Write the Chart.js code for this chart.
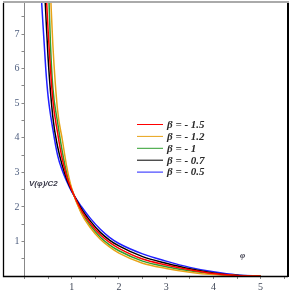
<!DOCTYPE html>
<html>
<head>
<meta charset="utf-8">
<script src="https://cdn.jsdelivr.net/npm/chart.js@4/dist/chart.umd.min.js"></script>
<style>
  html, body { margin: 0; padding: 0; background: #fff; }
</style>
</head>
<body>
<canvas id="chart" width="291" height="298"></canvas>
<script>
// tick labels
const xTicks = [1, 2, 3, 4, 5];
const yTicks = [1, 2, 3, 4, 5, 6, 7];

// series labels and colours (legend order)
const betaLabels = ['β = - 1.5', 'β = - 1.2', 'β = - 1', 'β = - 0.7', 'β = - 0.5'];
const betaColors = ['#ff0000', '#e8a317', '#2e9e2e', '#000000', '#2020ff'];

// values: phi, V(phi)/C2
const phiRight  = [1.2, 1.4, 1.6, 1.8, 2, 2.5, 3, 3.5, 4, 4.5, 5];

const phiRed    = [0.47, 0.5, 0.6, 0.7, 0.8, 0.9, 1.0].concat(phiRight);
const vRed      = [7.9, 7.1, 5.1, 4.15, 3.38, 2.85, 2.49, 1.91, 1.51, 1.20, 0.97, 0.80, 0.49, 0.32, 0.18, 0.07, 0.015, 0];
const phiOrange = [0.56, 0.6, 0.7, 0.8, 0.9, 1.0].concat(phiRight);
const vOrange   = [7.9, 6.7, 4.8, 3.95, 3.12, 2.53, 1.82, 1.39, 1.07, 0.84, 0.66, 0.37, 0.22, 0.11, 0.04, 0.01, 0];
const phiGreen  = [0.52, 0.55, 0.6, 0.7, 0.8, 0.9, 1.0].concat(phiRight);
const vGreen    = [7.9, 6.7, 5.45, 4.45, 3.6, 2.95, 2.51, 1.86, 1.45, 1.13, 0.90, 0.73, 0.43, 0.27, 0.15, 0.06, 0.01, 0];
const phiBlack  = [0.44, 0.5, 0.6, 0.7, 0.8, 0.9, 1.0].concat(phiRight);
const vBlack    = [7.9, 6.3, 4.6, 3.75, 3.2, 2.78, 2.47, 1.96, 1.58, 1.27, 1.04, 0.87, 0.56, 0.37, 0.21, 0.09, 0.02, 0];
const phiBlue   = [0.364, 0.45, 0.5, 0.6, 0.7, 0.8, 0.9, 1.0].concat(phiRight);
const vBlue     = [7.9, 6.0, 5.2, 4.25, 3.5, 3.05, 2.72, 2.44, 2.02, 1.66, 1.36, 1.12, 0.94, 0.64, 0.43, 0.25, 0.12, 0.03, 0];

const seriesPhi = [phiRed, phiOrange, phiGreen, phiBlack, phiBlue];
const seriesV = [vRed, vOrange, vGreen, vBlack, vBlue];

const datasets = betaLabels.map((label, i) => ({
  label: label,
  data: seriesPhi[i].map((x, j) => ({ x: x, y: seriesV[i][j] })),
  borderColor: betaColors[i],
  borderWidth: 1.5,
  pointRadius: 0,
  fill: false,
  cubicInterpolationMode: 'monotone'
}));

// frame round the plot (black left/right/bottom, grey top)
const framePlugin = {
  id: 'frame',
  afterDraw(chart) {
    const ctx = chart.ctx;
    const a = chart.chartArea;
    ctx.save();
    ctx.strokeStyle = '#000';
    ctx.lineWidth = 1.3;
    ctx.beginPath();
    ctx.moveTo(3.5, a.top);
    ctx.lineTo(3.5, a.bottom + 0.5);
    ctx.lineTo(a.right, a.bottom + 0.5);
    ctx.stroke();
    ctx.lineWidth = 2;
    ctx.beginPath();
    ctx.moveTo(a.right, a.top);
    ctx.lineTo(a.right, a.bottom + 1);
    ctx.stroke();
    ctx.strokeStyle = '#aaaaaa';
    ctx.beginPath();
    ctx.moveTo(3, 2);
    ctx.lineTo(a.right + 1, 2);
    ctx.stroke();
    ctx.restore();
  }
};

// legend inside the plot and the axis titles
const legendPlugin = {
  id: 'insideLegend',
  afterDatasetsDraw(chart) {
    const ctx = chart.ctx;
    ctx.save();
    chart.data.datasets.forEach((ds, i) => {
      const y = 124 + i * 11.9;
      ctx.strokeStyle = ds.borderColor;
      ctx.lineWidth = 1;
      ctx.beginPath();
      ctx.moveTo(137, y + 0.5);
      ctx.lineTo(163, y + 0.5);
      ctx.stroke();
      ctx.fillStyle = '#2a2a2a';
      ctx.font = 'bold italic 11px "Liberation Serif"';
      ctx.textBaseline = 'middle';
      ctx.fillText(ds.label, 167, y + 1);
    });
    ctx.fillStyle = '#3a3a4a';
    ctx.font = 'italic bold 8px "Liberation Sans"';
    ctx.textBaseline = 'middle';
    ctx.fillText('V(φ)/C2', 29, 184);
    ctx.font = 'italic bold 9px "Liberation Serif"';
    ctx.fillText('φ', 240, 256);
    ctx.restore();
  }
};

new Chart(document.getElementById('chart'), {
  type: 'line',
  data: { datasets: datasets },
  options: {
    responsive: false,
    animation: false,
    layout: { padding: { left: 3, right: 3, top: 3, bottom: 0 } },
    plugins: {
      legend: { display: false },
      tooltip: { enabled: false }
    },
    scales: {
      x: {
        type: 'linear',
        min: 0,
        max: 5.58,
        afterFit(scale) {
          scale.height = 22;
          scale.paddingLeft = 0;
          scale.paddingRight = 0;
        },
        border: { color: '#000', width: 1 },
        grid: { drawOnChartArea: false, drawTicks: true, tickLength: 3, color: '#888' },
        ticks: {
          stepSize: 0.5,
          includeBounds: false,
          autoSkip: false,
          maxRotation: 0,
          padding: 2,
          color: '#404858',
          font: { family: 'Liberation Serif', size: 10 },
          callback: v => xTicks.includes(v) ? String(v) : ''
        }
      },
      y: {
        type: 'linear',
        min: 0,
        max: 7.9,
        afterFit(scale) {
          scale.width = 21.5;
          scale.paddingTop = 0;
          scale.paddingBottom = 0;
        },
        border: { color: '#888', width: 1 },
        grid: { drawOnChartArea: false, drawTicks: true, tickLength: 3, color: '#888' },
        ticks: {
          stepSize: 0.5,
          includeBounds: false,
          autoSkip: false,
          padding: 2,
          color: '#506080',
          font: { family: 'Liberation Serif', size: 10 },
          callback: v => yTicks.includes(v) ? String(v) : ''
        }
      }
    }
  },
  plugins: [framePlugin, legendPlugin]
});
</script>
</body>
</html>
